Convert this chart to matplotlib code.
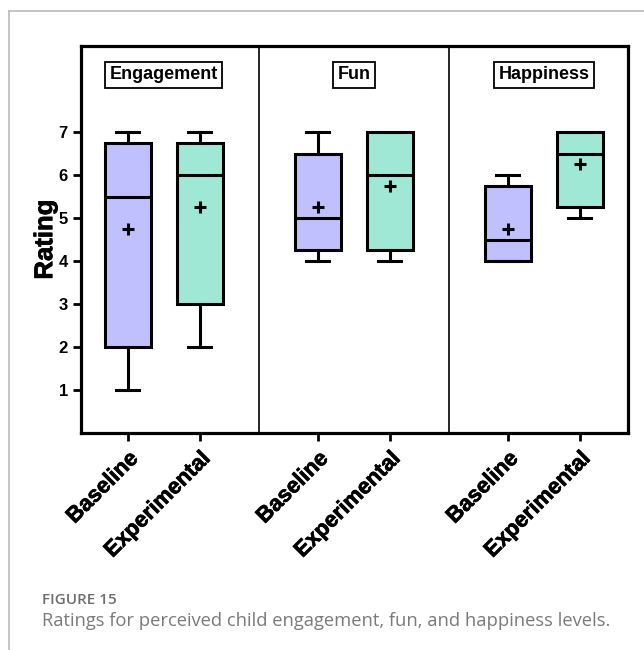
import matplotlib
matplotlib.use("Agg")
import matplotlib.pyplot as plt
import matplotlib.patheffects as pe
from matplotlib.lines import Line2D

# Rating summaries per measure and condition
measures = ["Engagement", "Fun", "Happiness"]
conditions = ["Baseline", "Experimental"]
whisker_low = [[1, 2], [4, 4], [4, 5]]
q1 = [[2, 3], [4.25, 4.25], [4, 5.25]]
medians = [[5.5, 6], [5, 6], [4.5, 6.5]]
q3 = [[6.75, 6.75], [6.5, 7], [5.75, 7]]
whisker_high = [[7, 7], [7, 7], [6, 7]]
means = [[4.75, 5.25], [5.25, 5.75], [4.75, 6.25]]
y_ticks = [1, 2, 3, 4, 5, 6, 7]

colors = ["#C0C0FF", "#A0E8D6"]
group_step = 2.64

plt.rcParams["font.family"] = ["Liberation Sans", "DejaVu Sans"]

fig = plt.figure(figsize=(6.44, 6.5), dpi=100)
ax = fig.add_axes([81 / 644, 1 - 433 / 650, 547 / 644, 387 / 650])

stats, positions, facecolors, labels = [], [], [], []
for g, m in enumerate(measures):
    for c, cond in enumerate(conditions):
        stats.append(dict(whislo=whisker_low[g][c], q1=q1[g][c], med=medians[g][c],
                          q3=q3[g][c], whishi=whisker_high[g][c], mean=means[g][c],
                          fliers=[]))
        positions.append(g * group_step + c)
        facecolors.append(colors[c])
        labels.append(cond)

bp = ax.bxp(stats, positions=positions, widths=0.64, patch_artist=True,
            showmeans=True, showfliers=False,
            boxprops=dict(linewidth=2.2, edgecolor="black"),
            medianprops=dict(color="black", linewidth=2.2),
            whiskerprops=dict(color="black", linewidth=2.2),
            capprops=dict(color="black", linewidth=2.2),
            meanprops=dict(marker="+", markeredgecolor="black", markersize=8,
                           markeredgewidth=2.2),
            capwidths=0.32)
for patch, fc in zip(bp["boxes"], facecolors):
    patch.set_facecolor(fc)

x_left = -0.65
x_right = 2 * group_step + 1 + 0.67
ax.set_xlim(x_left, x_right)
ax.set_ylim(0, 9)

# Panel dividers between measures
for g in range(1, len(measures)):
    xd = (g - 1) * group_step + 1 + (group_step - 1) / 2
    ax.axvline(xd, color="black", linewidth=1.2)

heavy = [pe.withStroke(linewidth=0.5, foreground="black")]

# Boxed panel titles
for g, m in enumerate(measures):
    ax.text(g * group_step + 0.5, 8.33, m, ha="center", va="center",
            fontsize=13, fontweight="bold",
            bbox=dict(boxstyle="square,pad=0.25", facecolor="white",
                      edgecolor="black", linewidth=1.3))

for s in ax.spines.values():
    s.set_linewidth(2.3)

ax.set_yticks(y_ticks)
ax.set_yticklabels([str(v) for v in y_ticks], fontsize=12, fontweight="bold")
ax.set_xticks(positions)
ax.set_xticklabels(labels, rotation=45, ha="right", rotation_mode="anchor",
                   fontsize=16, fontweight="bold")
for t in ax.get_xticklabels():
    t.set_path_effects(heavy)
ax.tick_params(axis="both", direction="out", length=6, width=2.0)
ax.tick_params(axis="x", pad=5)
ax.set_ylabel("Rating", fontsize=18.5, fontweight="bold", labelpad=1,
              path_effects=heavy)

# Caption frame and caption text
fig.add_artist(Line2D([9 / 644, 9 / 644], [0, 1 - 11 / 650], color="#BBBBBB",
                      linewidth=1.2, transform=fig.transFigure))
fig.add_artist(Line2D([9 / 644, 1], [1 - 11 / 650, 1 - 11 / 650], color="#BBBBBB",
                      linewidth=1.2, transform=fig.transFigure))
fig.text(42 / 644, 1 - 600 / 650, "FIGURE 15", fontsize=11, color="#6E6E6E",
         family=["Open Sans", "DejaVu Sans"], fontweight="semibold", va="center")
fig.text(42 / 644, 1 - 621 / 650,
         "Ratings for perceived child engagement, fun, and happiness levels.",
         fontsize=13.2, color="#7A7A7A", family=["Open Sans", "DejaVu Sans"],
         va="center")

fig.savefig("out.png", dpi=100)
